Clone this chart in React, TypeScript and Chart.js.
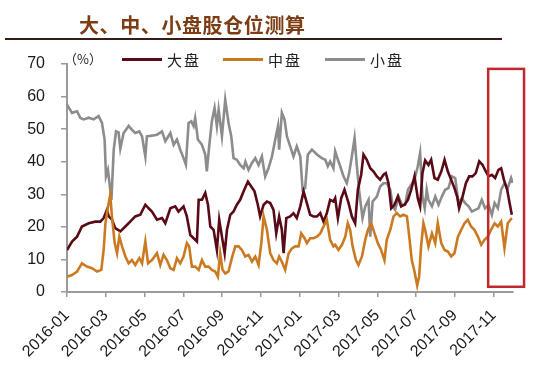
import React, { useEffect, useRef } from "react";
import { Chart, registerables } from "chart.js";

Chart.register(...registerables);

// x = months since 2016-01 (0 = 2016-01, 22 = 2017-11), y = position (%)
const xTickMonths = [0, 2, 4, 6, 8, 10, 12, 14, 16, 18, 20, 22];
const xTickLabels = [
  "2016-01", "2016-03", "2016-05", "2016-07", "2016-09", "2016-11",
  "2017-01", "2017-03", "2017-05", "2017-07", "2017-09", "2017-11",
];
const yTicks = [0, 10, 20, 30, 40, 50, 60, 70];

const largeCap: [number, number][] = [
  [0, 12.9], [0.26, 15.5], [0.52, 17], [0.77, 20.1], [1.12, 21.1], [1.46, 21.6], [1.72, 21.6], [1.89, 22.7],
  [2.06, 25.2], [2.15, 23.2], [2.32, 22.2], [2.49, 19.6], [2.75, 18.6], [3.01, 20.1], [3.26, 21.6], [3.52, 23.2],
  [3.78, 23.7], [4.04, 26.8], [4.21, 25.7], [4.38, 24.7], [4.64, 22.2], [4.9, 22.7], [5.07, 21.1], [5.33, 25.7],
  [5.58, 26.3], [5.75, 24.7], [6.01, 26.3], [6.18, 23.2], [6.36, 17.5], [6.53, 16.5], [6.7, 15.5], [6.79, 28.3],
  [6.96, 28.3], [7.13, 30.4], [7.27, 26.8], [7.39, 20.1], [7.56, 19.1], [7.73, 12.9], [7.85, 22.2], [7.99, 17],
  [8.13, 11.9], [8.25, 19.1], [8.42, 23.7], [8.59, 24.7], [8.76, 26.8], [8.93, 28.3], [9.11, 30.9], [9.33, 33.9],
  [9.5, 32.4], [9.67, 30.9], [9.84, 26.8], [9.96, 23.2], [10.14, 26.8], [10.31, 27.8], [10.48, 27.3], [10.65, 25.2],
  [10.79, 18], [10.94, 23.2], [11.08, 19.1], [11.17, 11.9], [11.31, 22.7], [11.51, 23.2], [11.68, 24.2], [11.85, 22.7],
  [12.03, 26.3], [12.2, 30.9], [12.37, 27.3], [12.54, 23.7], [12.71, 23.2], [12.89, 23.2], [13.06, 24.2], [13.23, 21.6],
  [13.4, 24.2], [13.57, 28.3], [13.74, 27.8], [13.83, 28.8], [13.97, 22.7], [14.14, 28.8], [14.31, 31.4], [14.52, 27.3],
  [14.69, 23.2], [14.86, 21.1], [15, 31.4], [15.17, 36], [15.29, 42.2], [15.46, 40.6], [15.64, 38], [15.81, 37],
  [15.98, 35.5], [16.15, 34.5], [16.32, 36], [16.44, 36.5], [16.58, 33.4], [16.72, 25.7], [16.89, 26.8], [17.06, 29.3],
  [17.23, 26.3], [17.41, 26.8], [17.58, 28.3], [17.75, 31.4], [17.92, 35.5], [18.09, 28.8], [18.21, 26.3], [18.33, 36.5],
  [18.47, 40.4], [18.64, 39], [18.78, 40.6], [18.95, 35], [19.12, 34.5], [19.3, 37], [19.47, 40.6], [19.64, 37],
  [19.81, 34.5], [19.98, 31.9], [20.12, 29.3], [20.22, 25.7], [20.4, 29.3], [20.57, 33.4], [20.74, 35.5], [20.91, 35.5],
  [21.08, 36.5], [21.26, 40.1], [21.43, 39], [21.6, 37], [21.74, 35.5], [21.91, 36], [22.08, 35], [22.25, 37.5],
  [22.39, 38], [22.53, 34.5], [22.7, 31.4], [22.84, 26.8], [22.94, 23.7],
];

const midCap: [number, number][] = [
  [0, 4.7], [0.26, 5.2], [0.52, 6.3], [0.77, 8.8], [1.03, 7.8], [1.29, 7.3], [1.55, 6.3], [1.77, 6.8],
  [1.89, 12.9], [1.98, 21], [2.11, 26], [2.23, 29.8], [2.32, 23], [2.46, 15], [2.58, 11.9], [2.7, 17],
  [2.84, 14], [3.01, 10.9], [3.18, 8.8], [3.35, 9.8], [3.52, 8.3], [3.73, 10.4], [3.87, 8.8], [4.04, 15.5],
  [4.18, 8.8], [4.38, 9.8], [4.64, 11.9], [4.81, 8.3], [4.98, 11.4], [5.15, 9.8], [5.33, 7.3], [5.5, 6.8],
  [5.67, 10.4], [5.84, 8.8], [6.01, 10.9], [6.18, 15], [6.3, 14], [6.44, 7.8], [6.61, 7.8], [6.79, 6.8],
  [6.96, 9.8], [7.13, 7.8], [7.3, 7.8], [7.47, 6.8], [7.64, 6.3], [7.78, 4.7], [7.9, 11.9], [8.02, 6.8],
  [8.16, 5.7], [8.33, 6.3], [8.5, 10.4], [8.68, 14], [8.85, 14], [9.02, 12.9], [9.19, 10.9], [9.36, 11.4],
  [9.54, 9.3], [9.71, 10.9], [9.88, 8.3], [10.02, 15], [10.14, 23.2], [10.31, 19.1], [10.48, 11.9], [10.65, 9.8],
  [10.82, 8.8], [10.94, 10.9], [11.08, 9.3], [11.25, 6.8], [11.43, 11.9], [11.6, 13.4], [11.77, 14], [11.94, 14],
  [12.08, 18], [12.25, 16.5], [12.37, 15], [12.54, 16.5], [12.71, 16.5], [12.89, 17], [13.06, 18], [13.23, 20.1],
  [13.4, 22.2], [13.57, 16], [13.74, 14], [13.83, 14.5], [14, 12.9], [14.18, 14.5], [14.35, 17], [14.48, 21.1],
  [14.6, 19.1], [14.73, 14], [14.9, 9.8], [15.03, 8.3], [15.21, 10.9], [15.38, 16], [15.52, 19.1], [15.69, 21.1],
  [15.86, 18], [16.03, 15], [16.2, 12.9], [16.37, 9.8], [16.49, 16], [16.67, 19.1], [16.84, 23.2], [17.01, 24.2],
  [17.18, 23.2], [17.35, 23.7], [17.53, 23.2], [17.65, 17], [17.78, 9.8], [17.92, 6.3], [18.06, 2], [18.16, 4.7],
  [18.26, 14], [18.38, 21.1], [18.47, 19.1], [18.64, 14], [18.82, 18], [18.99, 15], [19.12, 21.1], [19.3, 15],
  [19.47, 12.9], [19.64, 12.4], [19.81, 10.9], [19.98, 11.9], [20.16, 17], [20.33, 19.1], [20.5, 21.1], [20.67, 22.2],
  [20.84, 20.1], [21.01, 19.1], [21.19, 17], [21.36, 14.5], [21.53, 16], [21.7, 17], [21.87, 19.1], [22.05, 21.1],
  [22.22, 20.1], [22.39, 21.6], [22.56, 13.5], [22.73, 21.1], [22.94, 22.7],
];

const smallCap: [number, number][] = [
  [0, 57.5], [0.26, 55], [0.52, 55.5], [0.69, 53.4], [0.86, 53], [1.12, 53.5], [1.37, 53], [1.63, 54],
  [1.8, 52], [1.94, 46.8], [2.01, 35.5], [2.11, 37.5], [2.23, 31.4], [2.29, 28.3], [2.41, 43.7], [2.53, 49.3],
  [2.66, 49], [2.75, 44], [2.92, 48.8], [3.18, 51], [3.35, 49.8], [3.52, 48.8], [3.73, 49.3], [3.87, 47.8],
  [4.04, 41.6], [4.12, 47.8], [4.38, 48], [4.64, 48.3], [4.9, 49.3], [5.07, 46.3], [5.33, 48.8], [5.5, 45.2],
  [5.67, 46.8], [5.84, 43.7], [6.01, 41.1], [6.13, 39.1], [6.27, 51.9], [6.41, 52.4], [6.53, 50.9], [6.61, 53.4],
  [6.75, 46.8], [6.96, 45.2], [7.13, 42.2], [7.21, 37], [7.34, 45.2], [7.47, 52.4], [7.61, 56.5], [7.73, 50.9],
  [7.82, 56], [7.99, 47.8], [8.16, 59], [8.33, 51.9], [8.47, 47.8], [8.59, 41.1], [8.76, 40.6], [8.93, 39],
  [9.11, 38], [9.2, 40], [9.36, 37.5], [9.54, 39.6], [9.71, 41.1], [9.88, 39], [10.05, 41.6], [10.22, 35.5],
  [10.39, 38], [10.57, 41.6], [10.74, 46.8], [10.88, 50.9], [10.94, 43.7], [11.08, 55], [11.22, 52.9], [11.34, 47.8],
  [11.51, 44.7], [11.68, 41.6], [11.85, 44.7], [12.03, 41.6], [12.15, 31.4], [12.28, 31.9], [12.42, 42.2], [12.63, 43.7],
  [12.89, 42.2], [13.14, 41.1], [13.32, 40.6], [13.45, 38.6], [13.57, 40.1], [13.74, 38], [13.83, 43.2], [13.97, 40.6],
  [14.09, 38.6], [14.26, 35.5], [14.43, 33.4], [14.55, 36.5], [14.69, 41.6], [14.83, 47.3], [14.95, 38.6], [15.07, 30.9],
  [15.24, 22.7], [15.38, 26.3], [15.55, 28.3], [15.64, 17], [15.76, 27.8], [15.98, 29.3], [16.15, 32.4], [16.32, 33.4],
  [16.49, 33.4], [16.67, 31.4], [16.8, 26.3], [16.92, 25.2], [17.1, 29.3], [17.27, 26.8], [17.44, 26.8], [17.58, 31.4],
  [17.75, 32.9], [17.92, 34.5], [18.09, 38.6], [18.21, 42.7], [18.33, 29.3], [18.45, 25.7], [18.55, 31.4], [18.64, 28.3],
  [18.82, 26.3], [18.99, 29.3], [19.16, 26.8], [19.33, 29.3], [19.5, 31.4], [19.67, 31.9], [19.85, 35.5], [20.02, 35],
  [20.19, 27.3], [20.36, 28.8], [20.53, 27.3], [20.71, 26.3], [20.88, 24.7], [21.05, 25.2], [21.22, 25.7], [21.39, 28.3],
  [21.56, 25.7], [21.74, 26.8], [21.91, 23.7], [22.05, 27.3], [22.22, 25.7], [22.39, 31.4], [22.56, 33.4], [22.73, 31.9],
  [22.9, 35], [22.98, 33.5],
];

// highlighted window (months, %)
const highlightX = [21.72, 23.57];
const highlightY = [1.6, 68.5];

const seriesNames = ["大盘", "中盘", "小盘"];
const seriesColors = ["#5a0a16", "#cc7a22", "#8c8c8c"];
const seriesData = [largeCap, midCap, smallCap];
const seriesOrder = [1, 0, 2];

const boxPlugin = {
  id: "highlightBox",
  afterDatasetsDraw(chart: any) {
    const { ctx, scales } = chart;
    const x0 = scales.x.getPixelForValue(highlightX[0]);
    const x1 = scales.x.getPixelForValue(highlightX[1]);
    const y0 = scales.y.getPixelForValue(highlightY[1]);
    const y1 = scales.y.getPixelForValue(highlightY[0]);
    ctx.save();
    ctx.strokeStyle = "#c3262c";
    ctx.lineWidth = 2.5;
    ctx.strokeRect(x0, y0, x1 - x0, y1 - y0);
    ctx.restore();
  },
};

export default function App() {
  const ref = useRef<HTMLCanvasElement>(null);

  useEffect(() => {
    const chart = new Chart(ref.current!, {
      type: "line",
      data: {
        datasets: seriesData.map((d, i) => ({
          label: seriesNames[i],
          data: d.map(([x, y]) => ({ x, y })),
          borderColor: seriesColors[i],
          backgroundColor: seriesColors[i],
          borderWidth: 2.6,
          pointRadius: 0,
          tension: 0,
          order: seriesOrder[i],
        })),
      },
      options: {
        animation: false,
        responsive: false,
        maintainAspectRatio: false,
        layout: { padding: { top: 64, right: 37, left: 0, bottom: 0 } },
        plugins: { legend: { display: false }, tooltip: { enabled: false } },
        scales: {
          x: {
            type: "linear",
            min: 0,
            max: 23,
            afterBuildTicks: (s: any) => {
              s.ticks = xTickMonths.map((v) => ({ value: v }));
            },
            afterFit: (s: any) => {
              s.height = 83;
            },
            ticks: {
              autoSkip: false,
              minRotation: 45,
              maxRotation: 45,
              padding: 9,
              color: "#1a1a1a",
              font: { family: "'Liberation Sans', Arial, sans-serif", size: 16 },
              callback: (v: any) => {
                const i = xTickMonths.indexOf(Number(v));
                return i >= 0 ? xTickLabels[i] : "";
              },
            },
            grid: { drawOnChartArea: false, drawTicks: true, tickLength: 5, color: "#9a9a9a", lineWidth: 1.5 },
            border: { color: "#9a9a9a", width: 2 },
          },
          y: {
            min: 0,
            max: 70,
            afterBuildTicks: (s: any) => {
              s.ticks = yTicks.map((v) => ({ value: v }));
            },
            afterFit: (s: any) => {
              s.width = 67;
            },
            ticks: {
              padding: 16,
              color: "#1a1a1a",
              font: { family: "'Liberation Sans', Arial, sans-serif", size: 16 },
            },
            grid: { drawOnChartArea: false, drawTicks: true, tickLength: 6, color: "#9a9a9a", lineWidth: 1.5 },
            border: { color: "#9a9a9a", width: 2 },
          },
        },
      },
      plugins: [boxPlugin],
    });
    return () => chart.destroy();
  }, []);

  const cjk = "'Noto Sans CJK SC', sans-serif";
  const legendPos = [
    { line: 122, text: 167 },
    { line: 223, text: 268 },
    { line: 325, text: 370 },
  ];

  return (
    <div style={{ position: "absolute", left: 0, top: 0, width: 550, height: 375, background: "#fff", overflow: "hidden" }}>
      <canvas ref={ref} width={550} height={375} style={{ position: "absolute", left: 0, top: 0 }} />
      <div
        style={{
          position: "absolute", left: 79, top: 14, fontFamily: cjk, fontSize: 20, lineHeight: "22px",
          fontWeight: 700, color: "#7c3d14", letterSpacing: 0.6, whiteSpace: "nowrap",
        }}
      >
        大、中、小盘股仓位测算
      </div>
      <div style={{ position: "absolute", left: 5, top: 38, width: 497, height: 2, background: "#3a1c16" }} />
      <div style={{ position: "absolute", left: 64, top: 50, fontFamily: cjk, fontSize: 13, lineHeight: "18px", color: "#222", whiteSpace: "nowrap" }}>
        （%）
      </div>
      {seriesNames.map((n, i) => (
        <React.Fragment key={n}>
          <div style={{ position: "absolute", left: legendPos[i].line, top: 58, width: 40, height: 3, background: seriesColors[i] }} />
          <div style={{ position: "absolute", left: legendPos[i].text, top: 50, fontFamily: cjk, fontSize: 15, lineHeight: "20px", color: "#222", letterSpacing: 2, whiteSpace: "nowrap" }}>
            {n}
          </div>
        </React.Fragment>
      ))}
    </div>
  );
}
